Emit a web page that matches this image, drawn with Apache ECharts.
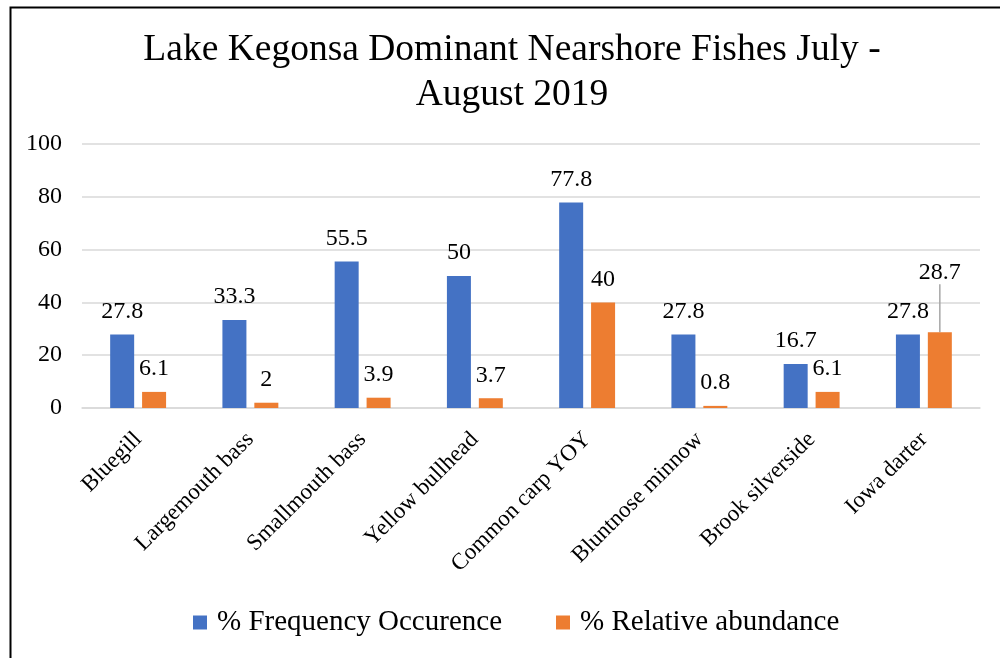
<!DOCTYPE html>
<html>
<head>
<meta charset="utf-8">
<script src="https://cdn.jsdelivr.net/npm/echarts@6/dist/echarts.min.js"></script>
<style>
  html, body { margin: 0; padding: 0; background: #fff; }
  #chart { width: 1000px; height: 658px; }
</style>
</head>
<body>
<div id="chart"></div>
<script>
const categories = ['Bluegill', 'Largemouth bass', 'Smallmouth bass', 'Yellow bullhead',
  'Common carp YOY', 'Bluntnose minnow', 'Brook silverside', 'Iowa darter'];
const frequencyOccurrence = [27.8, 33.3, 55.5, 50, 77.8, 27.8, 16.7, 27.8];
const relativeAbundance = [6.1, 2, 3.9, 3.7, 40, 0.8, 6.1, 28.7];
const yTicks = { min: 0, max: 100, interval: 20 };

const FONT = '"Liberation Serif", "Times New Roman", serif';

const chart = echarts.init(document.getElementById('chart'));

const labelStyle = {
  show: true,
  position: 'top',
  distance: 11,
  fontFamily: FONT,
  fontSize: 24,
  color: '#000'
};

// The last abundance label sits higher, tied back to its bar by a leader line
const abundanceData = relativeAbundance.map((v, i) =>
  i === relativeAbundance.length - 1
    ? { value: v, labelLine: { show: true } }
    : v
);

chart.setOption({
  animation: false,
  backgroundColor: '#fff',
  title: {
    text: 'Lake Kegonsa Dominant Nearshore Fishes July -\nAugust 2019',
    left: 507,
    textAlign: 'center',
    top: 23,
    textStyle: {
      fontFamily: FONT,
      fontSize: 37.5,
      fontWeight: 'normal',
      color: '#000',
      lineHeight: 45
    }
  },
  graphic: [{
    type: 'rect',
    left: 8,
    top: 5,
    shape: { width: 1200, height: 900 },
    style: { fill: 'none', stroke: '#000', lineWidth: 2 },
    silent: true
  }],
  legend: {
    bottom: 16,
    left: 188,
    itemWidth: 14,
    itemHeight: 14,
    itemGap: 54,
    icon: 'rect',
    textStyle: {
      fontFamily: FONT,
      fontSize: 29,
      color: '#000',
      padding: [0, 0, 0, 5]
    },
    data: ['% Frequency Occurence', '% Relative abundance']
  },
  grid: { left: 82, right: 20, top: 144, bottom: 250 },
  xAxis: {
    type: 'category',
    data: categories,
    axisLine: { lineStyle: { color: '#d9d9d9', width: 1.5 } },
    axisTick: { show: false },
    axisLabel: {
      rotate: 45,
      interval: 0,
      margin: 28,
      fontFamily: FONT,
      fontSize: 23,
      color: '#000'
    }
  },
  yAxis: {
    type: 'value',
    min: yTicks.min,
    max: yTicks.max,
    interval: yTicks.interval,
    axisLine: { show: false },
    axisTick: { show: false },
    splitLine: { lineStyle: { color: '#d9d9d9', width: 1.5 } },
    axisLabel: {
      margin: 20,
      fontFamily: FONT,
      fontSize: 24,
      color: '#000'
    }
  },
  series: [
    {
      name: '% Frequency Occurence',
      type: 'bar',
      data: frequencyOccurrence,
      barWidth: 24,
      barGap: '33%',
      itemStyle: { color: '#4472c4' },
      label: labelStyle
    },
    {
      name: '% Relative abundance',
      type: 'bar',
      data: abundanceData,
      barWidth: 24,
      itemStyle: { color: '#ed7d31' },
      label: labelStyle,
      labelLayout: function (p) {
        return p.dataIndex === relativeAbundance.length - 1 ? { dy: -37 } : {};
      },
      labelLine: {
        show: false,
        lineStyle: { color: '#a6a6a6', width: 1.5 }
      }
    }
  ]
});
</script>
</body>
</html>
